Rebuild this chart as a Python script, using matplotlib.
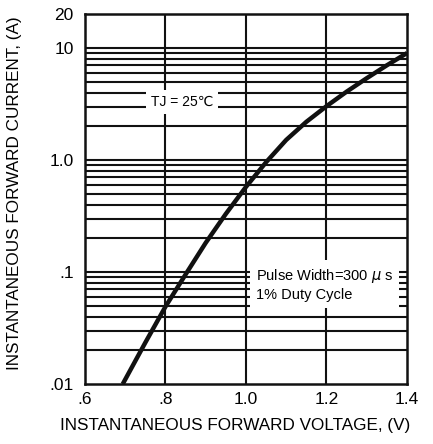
import matplotlib
matplotlib.use("Agg")
import matplotlib.pyplot as plt
from matplotlib.ticker import FixedLocator, NullFormatter

plt.rcParams['font.family'] = ['Liberation Sans', 'DejaVu Sans']

# forward voltage (V) vs. instantaneous forward current (A)
voltage = [0.694, 0.75, 0.8, 0.85, 0.9, 0.95, 1.0, 1.05, 1.1, 1.15, 1.2, 1.25, 1.3, 1.35, 1.4]
current = [0.01, 0.0234, 0.049, 0.095, 0.182, 0.33, 0.575, 0.955, 1.51, 2.19, 3.02, 4.07, 5.37, 7.0, 9.0]

x_ticks = [0.6, 0.8, 1.0, 1.2, 1.4]
x_labels = [".6", ".8", "1.0", "1.2", "1.4"]
y_ticks = [0.01, 0.1, 1.0, 10, 20]
y_labels = [".01", ".1", "1.0", "10", "20"]
y_minor = [m * d for d in (0.01, 0.1, 1.0) for m in range(2, 10)]

fig = plt.figure(figsize=(4.33, 4.44), dpi=100)
ax = fig.add_axes([0.196, 0.135, 0.744, 0.833])

ax.set_yscale('log')
ax.set_xlim(0.6, 1.4)
ax.set_ylim(0.01, 20)

ax.set_xticks(x_ticks)
ax.set_xticklabels(x_labels)
ax.set_yticks(y_ticks)
ax.set_yticklabels(y_labels)
ax.yaxis.set_minor_locator(FixedLocator(y_minor))
ax.yaxis.set_minor_formatter(NullFormatter())
ax.tick_params(which='both', length=0, labelsize=12.5, pad=8)
ax.tick_params(axis='x', pad=6)

# grid: verticals at .8/1.0/1.2, horizontals at every log step
for v in x_ticks[1:-1]:
    ax.axvline(v, color='#111111', lw=1.5, zorder=1)
for h in [0.1, 1.0, 10] + y_minor:
    ax.axhline(h, color='#111111', lw=1.5, zorder=1)

for s in ax.spines.values():
    s.set_linewidth(1.8)
    s.set_color('#111111')

ax.plot(voltage, current, color='#111111', lw=3.2, solid_capstyle='butt', zorder=4)

ax.text(0.842, 3.3, "TJ = 25\u2103", fontsize=10, ha='center', va='center', zorder=3,
        bbox=dict(facecolor='white', edgecolor='none', pad=3.5))
ax.text(1.025, 0.077, "Pulse Width=300 $\\mu$ s\n1% Duty Cycle", fontsize=10.5,
        ha='left', va='center', linespacing=1.3, zorder=3,
        bbox=dict(facecolor='white', edgecolor='none', pad=4))

ax.set_xlabel("INSTANTANEOUS FORWARD VOLTAGE, (V)", fontsize=12.3)
ax.xaxis.set_label_coords(0.466, -0.092)
ax.set_ylabel("INSTANTANEOUS FORWARD CURRENT, (A)", fontsize=12.3)
ax.yaxis.set_label_coords(-0.196, 0.516)

fig.savefig("out.png", dpi=100)
